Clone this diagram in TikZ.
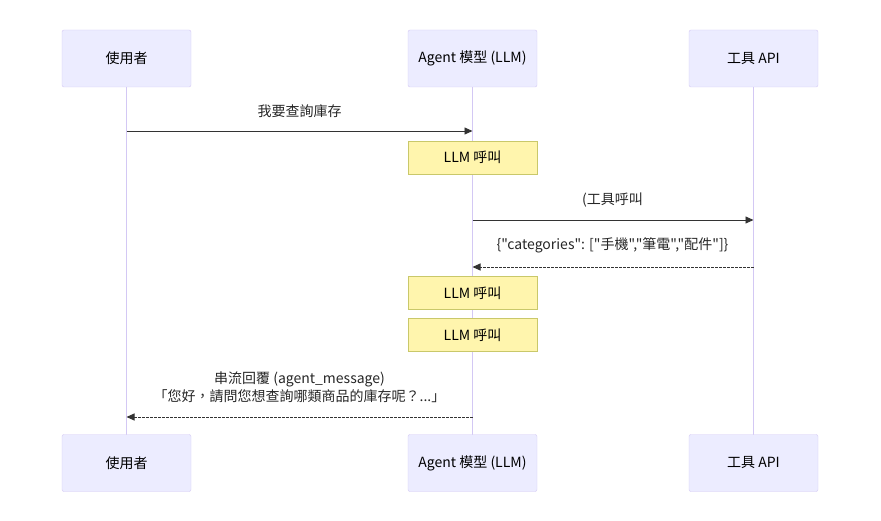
\documentclass[tikz,border=0pt]{standalone}
\usepackage{fontspec}
\setmainfont{Noto Sans CJK TC}[Ligatures=TeXOff]
\usetikzlibrary{arrows.meta}
\definecolor{actfill}{HTML}{ECECFF}
\definecolor{actline}{HTML}{D3C8F4}
\definecolor{notefill}{HTML}{FFF5AD}
\definecolor{noteline}{HTML}{C9C86A}
\definecolor{msg}{HTML}{333333}
\tikzset{
  actor/.style={draw=actline,fill=actfill,rounded corners=2pt,minimum width=129pt,minimum height=57pt,font=\fontsize{14}{16}\selectfont},
  note/.style={draw=noteline,fill=notefill,minimum width=129pt,minimum height=33pt,font=\fontsize{14}{16}\selectfont},
  life/.style={actline,line width=0.9pt},
  call/.style={msg,line width=0.9pt,-{Triangle[length=8pt,width=7pt]}},
  reply/.style={call,dash pattern=on 2.5pt off 1.5pt},
  msgtext/.style={font=\fontsize{14}{18}\selectfont,text=black!85,align=center}
}
\begin{document}
\begin{tikzpicture}[x=1pt,y=-1pt]
\useasboundingbox (0,0) rectangle (881,521);
\node[actor] (u1) at (126.5,58.5) {使用者};
\node[actor] (a1) at (472.5,58.5) {Agent 模型 (LLM)};
\node[actor] (t1) at (753.5,58.5) {工具 API};
\draw[life] (u1.south) -- (126.5,435);
\draw[life] (a1.south) -- (472.5,435);
\draw[life] (t1.south) -- (753.5,435);
\node[actor] (u2) at (126.5,463) {使用者};
\node[actor] (a2) at (472.5,463) {Agent 模型 (LLM)};
\node[actor] (t2) at (753.5,463) {工具 API};
% messages
\node[msgtext] (m1) at (299.5,111.5) {我要查詢庫存};
\draw[call] (u1 |- 0,131) -- (a1 |- 0,131);
\node[note] (n1) at (472.5,157.5) {LLM 呼叫};
\node[msgtext] (m2) at (612.5,200.5) {(工具呼叫};
\draw[call] (a1 |- 0,220) -- (t1 |- 0,220);
\node[msgtext] (m3) at (612.5,245.5) {\{"categories": ["手機","筆電","配件"]\}};
\draw[reply] (t1 |- 0,267) -- (a1 |- 0,267);
\node[note] (n2) at (472.5,293) {LLM 呼叫};
\node[note] (n3) at (472.5,335) {LLM 呼叫};
\node[msgtext] (m4) at (299.5,387) {串流回覆 (agent\_message)\\「您好，請問您想查詢哪類商品的庫存呢？...」};
\draw[reply] (a1 |- 0,417) -- (u1 |- 0,417);
\end{tikzpicture}
\end{document}
